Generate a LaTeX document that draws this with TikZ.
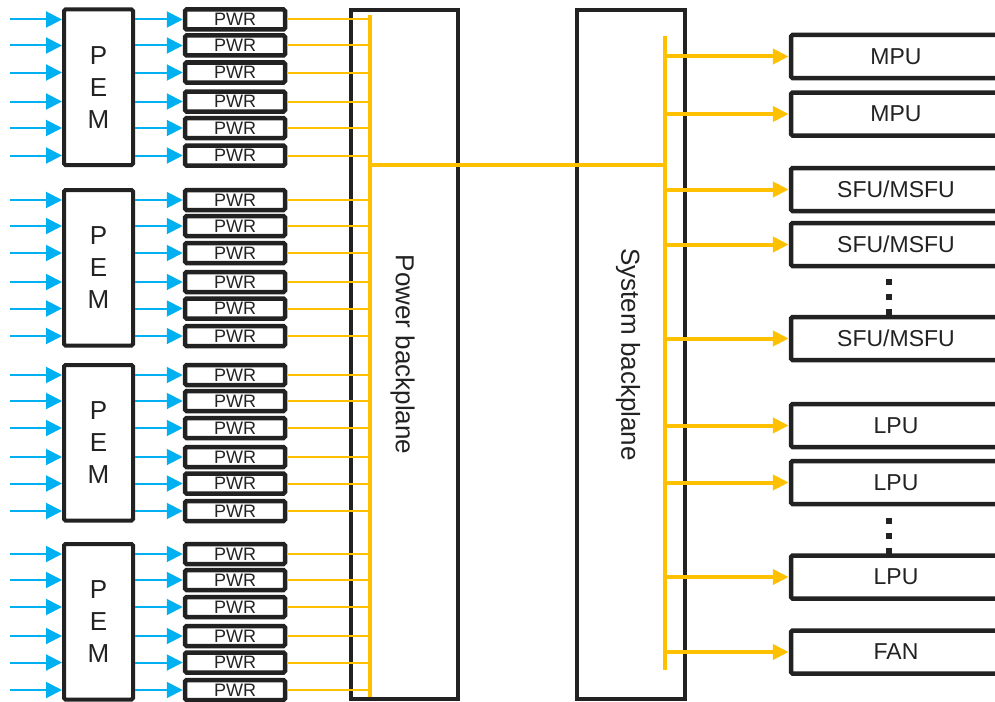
\documentclass[tikz,border=0pt]{standalone}
\usepackage{fontspec}
\setmainfont{Liberation Sans}
\usepackage{tikz}
\usetikzlibrary{arrows.meta}
\definecolor{inkgray}{HTML}{222222}
\definecolor{feedblue}{HTML}{00B0F0}
\definecolor{busamber}{HTML}{FFC000}

\begin{document}
\begin{tikzpicture}[x=1pt,y=-1pt,
  pembox/.style={draw=inkgray, line width=4pt, rounded corners=1.5pt, inner sep=0pt,
    minimum width=69pt, minimum height=155.5pt, align=center, text=inkgray,
    font=\fontsize{26}{32}\selectfont},
  pwrbox/.style={draw=inkgray, line width=4.5pt, rounded corners=1.5pt, inner sep=0pt,
    minimum width=100pt, minimum height=20pt, text=inkgray,
    font=\fontsize{18}{18}\selectfont},
  planebox/.style={draw=inkgray, line width=4pt, inner sep=0pt, minimum height=689pt},
  planetext/.style={rotate=-90, text=inkgray, font=\fontsize{26}{30}\selectfont},
  cardbox/.style={draw=inkgray, line width=4.5pt, rounded corners=1.5pt, inner sep=0pt,
    minimum width=210pt, minimum height=43pt, text=inkgray,
    font=\fontsize{23}{23}\selectfont},
  feed/.style={feedblue, line width=2pt, -{Triangle[length=16pt,width=16pt]}},
  tap/.style={busamber, line width=2pt},
  bus/.style={busamber, line width=4pt},
  branch/.style={busamber, line width=4pt, -{Triangle[length=16pt,width=15pt]}}]
\useasboundingbox (0,0) rectangle (995,701);
%
% backplanes
\node[planebox, minimum width=107pt] (pplane) at (404.5,354.5) {};
\node[planebox, minimum width=108pt] (splane) at (631,354.5) {};
\node[planetext] at ([xshift=-2pt]pplane.center) {Power backplane};
\node[planetext] at ([xshift=-3pt]splane.center) {System backplane};
%
% power modules
\coordinate (pbus) at (370,15);
\coordinate (pend) at (370,697);
\foreach \s [count=\g] in {19.5,200,375,554} {
  \node[pembox] (pem\g) at (98.5,\s+67.75) {P\\E\\M};
  \foreach \d [count=\k] in {0,26,53,82,108.5,136} {
    \node[pwrbox] (pwr\g\k) at (235,\s+\d) {PWR};
    \coordinate (in\g\k) at (10,\s+\d);
    \draw[feed] (in\g\k) -- (in\g\k -| pem\g.west);
    \draw[feed] (pem\g.east |- pwr\g\k.west) -- (pwr\g\k.west);
    \draw[tap] (pwr\g\k.east) -- (pwr\g\k.east -| pbus);
  }
}
\draw[bus] (pbus) -- (pend);
%
% boards
\node[cardbox] (mpu1) at (896,56.5) {MPU};
\node[cardbox] (mpu2) at (896,114) {MPU};
\node[cardbox] (sfu1) at (896,189.5) {SFU/MSFU};
\node[cardbox] (sfu2) at (896,244.5) {SFU/MSFU};
\node[cardbox] (sfu3) at (896,338.5) {SFU/MSFU};
\node[cardbox] (lpu1) at (896,425.5) {LPU};
\node[cardbox] (lpu2) at (896,482.5) {LPU};
\node[cardbox] (lpu3) at (896,577) {LPU};
\node[cardbox] (fan) at (896,652) {FAN};
\foreach \dy in {282,297,312,521,536,551}
  \fill[inkgray] (886,\dy-3) rectangle +(6,6);
%
\coordinate (sbus) at (665,36);
\coordinate (send) at (665,670);
\draw[bus] (sbus) -- (send);
\draw[bus] (370,165) -- (sbus |- 0,165);
\foreach \b in {mpu1,mpu2,sfu1,sfu2,sfu3,lpu1,lpu2,lpu3,fan}
  \draw[branch] (sbus |- \b.west) -- (\b.west);
\end{tikzpicture}
\end{document}
